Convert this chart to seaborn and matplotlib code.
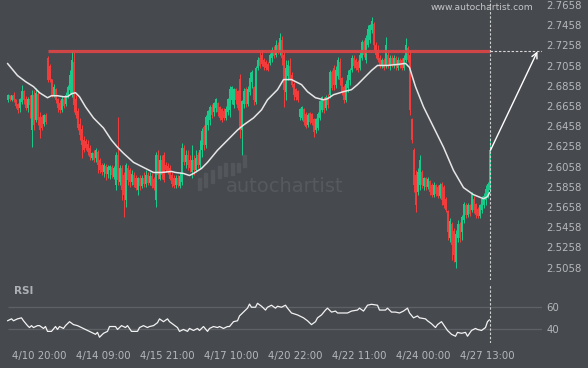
import numpy as np
import matplotlib
matplotlib.use("Agg")
import matplotlib.pyplot as plt
import seaborn as sns
from matplotlib.patches import Rectangle

# ---------------- data ----------------
open_ = [2.672, 2.676, 2.672, 2.676, 2.672, 2.667, 2.664, 2.670, 2.680, 2.672,
         2.664, 2.672, 2.642, 2.676, 2.652, 2.677, 2.654, 2.654, 2.648, 2.656,
         2.713, 2.705, 2.692, 2.677, 2.682, 2.672, 2.668, 2.662, 2.672, 2.668,
         2.676, 2.682, 2.677, 2.709, 2.672, 2.660, 2.647, 2.642, 2.632, 2.631,
         2.628, 2.624, 2.614, 2.619, 2.614, 2.620, 2.612, 2.607, 2.600, 2.606,
         2.598, 2.602, 2.605, 2.596, 2.588, 2.617, 2.591, 2.604, 2.597, 2.573,
         2.604, 2.602, 2.591, 2.597, 2.594, 2.583, 2.594, 2.587, 2.594, 2.589,
         2.597, 2.590, 2.596, 2.593, 2.573, 2.617, 2.594, 2.612, 2.617, 2.607,
         2.606, 2.604, 2.597, 2.594, 2.588, 2.594, 2.587, 2.591, 2.624, 2.610,
         2.617, 2.612, 2.600, 2.612, 2.602, 2.617, 2.607, 2.622, 2.644, 2.627,
         2.647, 2.652, 2.664, 2.660, 2.664, 2.668, 2.664, 2.662, 2.660, 2.654,
         2.660, 2.662, 2.672, 2.667, 2.682, 2.680, 2.692, 2.642, 2.668, 2.682,
         2.668, 2.680, 2.690, 2.684, 2.670, 2.703, 2.713, 2.716, 2.711, 2.709,
         2.707, 2.708, 2.713, 2.721, 2.716, 2.726, 2.719, 2.731, 2.716, 2.680,
         2.696, 2.705, 2.696, 2.687, 2.682, 2.680, 2.655, 2.654, 2.662, 2.657,
         2.647, 2.658, 2.657, 2.652, 2.642, 2.644, 2.654, 2.662, 2.672, 2.664,
         2.674, 2.677, 2.699, 2.703, 2.687, 2.696, 2.709, 2.693, 2.684, 2.672,
         2.684, 2.692, 2.701, 2.713, 2.711, 2.709, 2.703, 2.713, 2.729, 2.711,
         2.726, 2.731, 2.741, 2.746, 2.726, 2.721, 2.713, 2.705, 2.711, 2.705,
         2.716, 2.705, 2.713, 2.706, 2.713, 2.703, 2.711, 2.711, 2.703, 2.711,
         2.723, 2.716, 2.652, 2.622, 2.597, 2.581, 2.588, 2.600, 2.587, 2.594,
         2.586, 2.591, 2.587, 2.578, 2.587, 2.585, 2.577, 2.588, 2.585, 2.573,
         2.561, 2.535, 2.548, 2.541, 2.511, 2.535, 2.548, 2.541, 2.553, 2.567,
         2.558, 2.567, 2.563, 2.573, 2.568, 2.563, 2.557, 2.563, 2.568, 2.573,
         2.577, 2.583]
high = [2.678, 2.677, 2.677, 2.680, 2.673, 2.669, 2.674, 2.687, 2.682, 2.676,
        2.675, 2.677, 2.682, 2.682, 2.684, 2.680, 2.660, 2.657, 2.658, 2.659,
        2.715, 2.707, 2.693, 2.688, 2.684, 2.674, 2.672, 2.676, 2.675, 2.680,
        2.687, 2.701, 2.720, 2.719, 2.677, 2.664, 2.654, 2.647, 2.636, 2.633,
        2.632, 2.627, 2.620, 2.622, 2.624, 2.622, 2.614, 2.609, 2.609, 2.608,
        2.607, 2.607, 2.607, 2.606, 2.620, 2.655, 2.607, 2.607, 2.600, 2.609,
        2.607, 2.604, 2.602, 2.600, 2.597, 2.596, 2.597, 2.597, 2.600, 2.602,
        2.600, 2.600, 2.599, 2.596, 2.620, 2.622, 2.617, 2.617, 2.620, 2.610,
        2.609, 2.607, 2.600, 2.597, 2.597, 2.597, 2.600, 2.629, 2.627, 2.622,
        2.622, 2.617, 2.627, 2.617, 2.622, 2.620, 2.632, 2.644, 2.647, 2.657,
        2.662, 2.667, 2.668, 2.670, 2.674, 2.670, 2.666, 2.664, 2.664, 2.666,
        2.674, 2.686, 2.686, 2.684, 2.684, 2.682, 2.698, 2.672, 2.684, 2.685,
        2.686, 2.699, 2.701, 2.686, 2.705, 2.714, 2.721, 2.721, 2.713, 2.711,
        2.709, 2.718, 2.724, 2.725, 2.731, 2.729, 2.738, 2.735, 2.719, 2.711,
        2.711, 2.713, 2.699, 2.690, 2.684, 2.682, 2.664, 2.666, 2.664, 2.660,
        2.659, 2.660, 2.659, 2.654, 2.654, 2.660, 2.672, 2.676, 2.675, 2.677,
        2.678, 2.701, 2.701, 2.706, 2.705, 2.714, 2.713, 2.695, 2.687, 2.692,
        2.701, 2.703, 2.716, 2.716, 2.713, 2.711, 2.719, 2.731, 2.731, 2.736,
        2.746, 2.747, 2.754, 2.749, 2.729, 2.726, 2.716, 2.713, 2.713, 2.734,
        2.719, 2.716, 2.716, 2.716, 2.715, 2.714, 2.713, 2.713, 2.716, 2.733,
        2.725, 2.721, 2.654, 2.624, 2.602, 2.604, 2.617, 2.602, 2.596, 2.596,
        2.596, 2.593, 2.590, 2.591, 2.589, 2.588, 2.590, 2.591, 2.588, 2.576,
        2.563, 2.555, 2.551, 2.545, 2.543, 2.553, 2.551, 2.558, 2.571, 2.570,
        2.570, 2.569, 2.581, 2.577, 2.570, 2.566, 2.569, 2.577, 2.580, 2.588,
        2.591, 2.634]
low = [2.670, 2.671, 2.671, 2.670, 2.664, 2.659, 2.660, 2.668, 2.668, 2.662,
       2.660, 2.654, 2.625, 2.642, 2.650, 2.647, 2.634, 2.642, 2.646, 2.648,
       2.690, 2.690, 2.675, 2.675, 2.669, 2.660, 2.659, 2.660, 2.664, 2.666,
       2.674, 2.679, 2.675, 2.660, 2.654, 2.642, 2.632, 2.614, 2.620, 2.622,
       2.617, 2.612, 2.612, 2.610, 2.610, 2.599, 2.599, 2.597, 2.596, 2.593,
       2.595, 2.594, 2.595, 2.594, 2.583, 2.588, 2.588, 2.573, 2.556, 2.566,
       2.588, 2.586, 2.588, 2.586, 2.583, 2.578, 2.583, 2.585, 2.586, 2.586,
       2.588, 2.588, 2.585, 2.583, 2.566, 2.594, 2.593, 2.594, 2.591, 2.600,
       2.598, 2.593, 2.586, 2.585, 2.585, 2.586, 2.585, 2.588, 2.607, 2.604,
       2.602, 2.600, 2.595, 2.597, 2.600, 2.604, 2.604, 2.615, 2.622, 2.624,
       2.642, 2.647, 2.654, 2.656, 2.660, 2.656, 2.652, 2.650, 2.652, 2.652,
       2.657, 2.655, 2.668, 2.664, 2.668, 2.662, 2.634, 2.617, 2.664, 2.665,
       2.666, 2.677, 2.684, 2.667, 2.668, 2.701, 2.703, 2.705, 2.701, 2.701,
       2.700, 2.706, 2.709, 2.713, 2.714, 2.717, 2.716, 2.706, 2.665, 2.672,
       2.692, 2.692, 2.685, 2.672, 2.672, 2.670, 2.652, 2.652, 2.647, 2.644,
       2.645, 2.648, 2.647, 2.635, 2.639, 2.642, 2.652, 2.660, 2.659, 2.662,
       2.664, 2.674, 2.682, 2.682, 2.684, 2.693, 2.687, 2.677, 2.669, 2.670,
       2.680, 2.687, 2.699, 2.703, 2.701, 2.699, 2.701, 2.711, 2.714, 2.708,
       2.724, 2.728, 2.738, 2.721, 2.713, 2.709, 2.703, 2.703, 2.701, 2.703,
       2.703, 2.701, 2.704, 2.703, 2.701, 2.701, 2.703, 2.701, 2.701, 2.709,
       2.709, 2.657, 2.629, 2.581, 2.561, 2.578, 2.583, 2.585, 2.583, 2.583,
       2.584, 2.578, 2.576, 2.576, 2.577, 2.575, 2.575, 2.568, 2.565, 2.561,
       2.533, 2.531, 2.513, 2.511, 2.505, 2.531, 2.531, 2.533, 2.550, 2.555,
       2.556, 2.557, 2.561, 2.560, 2.555, 2.555, 2.555, 2.560, 2.565, 2.568,
       2.575, 2.581]
close_ = [2.676, 2.673, 2.676, 2.672, 2.666, 2.662, 2.672, 2.680, 2.672, 2.664,
          2.672, 2.667, 2.676, 2.647, 2.678, 2.652, 2.642, 2.644, 2.656, 2.650,
          2.692, 2.692, 2.677, 2.684, 2.672, 2.664, 2.662, 2.672, 2.666, 2.676,
          2.684, 2.696, 2.711, 2.667, 2.657, 2.644, 2.637, 2.627, 2.622, 2.624,
          2.620, 2.615, 2.619, 2.612, 2.622, 2.607, 2.602, 2.600, 2.607, 2.598,
          2.605, 2.606, 2.597, 2.604, 2.617, 2.593, 2.604, 2.583, 2.578, 2.607,
          2.593, 2.591, 2.598, 2.588, 2.585, 2.594, 2.587, 2.594, 2.589, 2.597,
          2.590, 2.596, 2.587, 2.585, 2.617, 2.597, 2.612, 2.597, 2.593, 2.602,
          2.600, 2.594, 2.589, 2.587, 2.594, 2.588, 2.596, 2.624, 2.610, 2.617,
          2.607, 2.604, 2.612, 2.602, 2.614, 2.607, 2.622, 2.640, 2.627, 2.654,
          2.660, 2.664, 2.657, 2.668, 2.672, 2.660, 2.654, 2.652, 2.654, 2.662,
          2.672, 2.682, 2.684, 2.682, 2.672, 2.664, 2.642, 2.670, 2.680, 2.668,
          2.682, 2.693, 2.699, 2.672, 2.703, 2.711, 2.705, 2.707, 2.704, 2.703,
          2.701, 2.716, 2.721, 2.715, 2.726, 2.719, 2.733, 2.713, 2.682, 2.703,
          2.706, 2.693, 2.687, 2.677, 2.675, 2.672, 2.662, 2.664, 2.650, 2.645,
          2.656, 2.650, 2.649, 2.640, 2.652, 2.657, 2.670, 2.674, 2.662, 2.674,
          2.667, 2.699, 2.684, 2.687, 2.701, 2.711, 2.692, 2.680, 2.672, 2.687,
          2.696, 2.701, 2.713, 2.705, 2.703, 2.701, 2.716, 2.729, 2.716, 2.733,
          2.741, 2.745, 2.749, 2.726, 2.716, 2.711, 2.705, 2.711, 2.703, 2.726,
          2.705, 2.713, 2.706, 2.713, 2.705, 2.711, 2.705, 2.703, 2.713, 2.726,
          2.711, 2.662, 2.632, 2.588, 2.568, 2.600, 2.612, 2.588, 2.594, 2.586,
          2.593, 2.581, 2.578, 2.587, 2.579, 2.577, 2.587, 2.573, 2.568, 2.563,
          2.541, 2.551, 2.528, 2.518, 2.538, 2.548, 2.535, 2.555, 2.568, 2.558,
          2.567, 2.559, 2.578, 2.563, 2.558, 2.557, 2.567, 2.573, 2.576, 2.583,
          2.588, 2.622]

ma_bar = [0, 5, 9, 13, 16, 20, 22, 25, 28, 30, 32, 34, 36, 39, 43, 48, 52, 55, 58,
          63, 68, 73, 77, 82, 84, 88, 91, 93, 97, 100, 105, 110, 115, 118, 123,
          127, 130, 135, 138, 142, 144, 147, 150, 154, 158, 160, 163, 168, 172,
          175, 178, 182, 185, 190, 195, 199, 201, 204, 208, 213, 218, 223, 228,
          233, 238, 240, 241]
ma_val = [2.708, 2.696, 2.690, 2.685, 2.679, 2.674, 2.676, 2.676, 2.675, 2.675,
          2.678, 2.679, 2.675, 2.665, 2.654, 2.644, 2.632, 2.625, 2.619, 2.610,
          2.605, 2.600, 2.600, 2.601, 2.600, 2.599, 2.597, 2.599, 2.604, 2.610,
          2.622, 2.632, 2.642, 2.647, 2.654, 2.662, 2.672, 2.682, 2.692, 2.692,
          2.690, 2.687, 2.680, 2.674, 2.672, 2.673, 2.677, 2.680, 2.682, 2.687,
          2.693, 2.701, 2.706, 2.706, 2.707, 2.708, 2.704, 2.685, 2.665, 2.645,
          2.625, 2.602, 2.585, 2.578, 2.574, 2.576, 2.580]

rsi_bar = [0, 2, 3, 5, 7, 8, 10, 11, 12, 13, 15, 16, 18, 19, 20, 22, 24, 25, 26,
           28, 29, 31, 33, 35, 37, 39, 40, 42, 44, 45, 46, 48, 50, 51, 54, 55, 57,
           59, 60, 62, 65, 66, 68, 70, 71, 73, 75, 76, 78, 80, 81, 83, 85, 86, 88,
           90, 91, 93, 95, 96, 98, 100, 101, 103, 105, 106, 108, 110, 111, 113,
           115, 116, 118, 120, 121, 122, 124, 125, 127, 129, 130, 132, 134, 135,
           137, 139, 140, 142, 145, 148, 150, 152, 154, 155, 157, 159, 160, 162,
           164, 165, 167, 170, 172, 175, 176, 178, 180, 182, 185, 186, 189, 190,
           192, 194, 196, 198, 200, 201, 203, 205, 206, 209, 210, 212, 214, 215,
           217, 219, 220, 222, 224, 225, 227, 229, 230, 232, 234, 235, 237, 239,
           240, 241]
rsi_val = [47.7, 49.4, 47.7, 49.4, 50.3, 47.7, 43.4, 41.7, 43.4, 41.7, 43.4, 43.4,
           40.9, 42.6, 38.3, 38.3, 42.6, 40.0, 42.6, 40.9, 43.4, 46.9, 44.3, 43.4,
           41.7, 40.0, 39.1, 37.4, 35.7, 37.4, 33.1, 36.6, 38.3, 42.6, 42.6, 40.0,
           43.4, 41.7, 43.4, 38.3, 38.3, 41.7, 43.4, 41.7, 42.6, 43.4, 46.0, 49.4,
           46.9, 49.4, 46.9, 44.3, 41.7, 38.3, 40.0, 38.3, 40.9, 39.1, 40.9, 39.1,
           42.6, 38.3, 40.9, 42.6, 41.7, 42.6, 40.9, 42.6, 42.6, 46.9, 47.7, 52.0,
           55.4, 58.9, 62.5, 59.7, 59.7, 63.2, 60.6, 57.2, 59.7, 61.5, 58.9, 60.6,
           59.7, 61.5, 58.9, 54.6, 52.9, 50.3, 47.7, 44.3, 46.9, 50.3, 52.9, 57.2,
           58.9, 55.4, 56.3, 54.6, 54.6, 54.6, 56.3, 57.2, 58.9, 56.3, 61.5, 62.3,
           61.5, 57.2, 57.2, 58.9, 55.4, 55.4, 54.6, 56.3, 58.9, 54.6, 50.3, 52.0,
           50.3, 49.4, 47.7, 45.1, 41.7, 44.3, 46.9, 41.7, 39.1, 35.7, 34.0, 37.4,
           36.6, 37.4, 34.0, 39.1, 40.9, 40.0, 39.1, 41.7, 46.9, 48.6]

level = 2.720            # resistance level (red line)
level_start_bar = 20
price_ticks = [2.5058, 2.5258, 2.5458, 2.5658, 2.5858, 2.6058, 2.6258,
               2.6458, 2.6658, 2.6858, 2.7058, 2.7258, 2.7458, 2.7658]
rsi_ticks = [40, 60]
x_tick_bars = [16, 48, 80, 112, 144, 176, 208, 240]
x_tick_labels = ["4/10 20:00", "4/14 09:00", "4/15 21:00", "4/17 10:00",
                 "4/20 22:00", "4/22 11:00", "4/24 00:00", "4/27 13:00"]
forecast_bar = 265       # where the projection arrow ends

# ---------------- style ----------------
sns.set_style("dark")
plt.rcParams["font.family"] = ["DejaVu Sans"]
BG = "#46494e"
GREEN = "#19c98a"
RED = "#f23c3c"
TXT = "#b6b8bb"

W, H = 588, 368
fig = plt.figure(figsize=(W / 100, H / 100), dpi=100, facecolor=BG)


def px_axes(x0, y0, x1, y1):
    a = fig.add_axes([x0 / W, 1 - y1 / H, (x1 - x0) / W, (y1 - y0) / H])
    a.set_facecolor(BG)
    for s in a.spines.values():
        s.set_visible(False)
    return a


ax = px_axes(0, 0, 542, 280)
axr = px_axes(0, 284, 542, 343)
XLIM = (-3.75, 267.25)   # 2 px per bar, bar centres on pixel centres

n = len(close_)
idx = np.arange(n)
o = np.array(open_); c = np.array(close_)
hi = np.array(high); lo = np.array(low)
cols = np.where(c >= o, GREEN, RED)

# watermark logo (decoration)
for (bx, by0, by1) in [(198, 178, 190), (204, 173, 187), (211, 170, 183), (218, 166, 178),
                       (224, 163, 176), (231, 163, 175), (237, 163, 172), (243, 155, 167)]:
    fig.patches.append(Rectangle((bx / W, 1 - by1 / H), 3 / W, (by1 - by0) / H,
                                 transform=fig.transFigure, color="#53565b", zorder=0.5))
fig.text(226 / W, 1 - 186 / H, "autochartist", fontsize=14, color="#56595e",
         va="center", ha="left", zorder=0.5)

# candles
ax.vlines(idx, lo, hi, colors=cols, linewidth=0.72, zorder=2)
ax.bar(idx, np.abs(c - o) + 0.0006, bottom=np.minimum(o, c), width=0.5,
       color=cols, linewidth=0, zorder=2)

# moving average
sns.lineplot(x=ma_bar, y=ma_val, ax=ax, color="#e6e6e6", linewidth=1.1, zorder=3)

last = n - 1
# resistance line
ax.hlines(level, level_start_bar, last, color="#e04646", linewidth=2.3, alpha=0.9, zorder=4)
ax.hlines(level, last, 268, color="#d8d8d8", linewidth=0.8, linestyles=(0, (2.2, 1.6)), zorder=4)
ax.axvline(last, color="#d0d0d0", linewidth=0.8, linestyle=(0, (2.2, 1.6)), zorder=4)
ax.annotate("", xy=(forecast_bar, level), xytext=(last + 0.5, close_[-1]),
            arrowprops=dict(arrowstyle="->", color="white", lw=1.0,
                            mutation_scale=10, shrinkA=0, shrinkB=0), zorder=5)

ax.set_xlim(*XLIM)
ax.set_ylim(2.4935, 2.7708)
ax.set_xticks([])
ax.yaxis.tick_right()
ax.set_yticks(price_ticks)
ax.set_yticklabels([f"{t:.4f}" for t in price_ticks])
ax.tick_params(axis="y", length=0, pad=3, labelsize=7.3, labelcolor=TXT)
ax.set_xlabel(""); ax.set_ylabel("")
ax.grid(False)

fig.text(482 / W, 1 - 8 / H, "www.autochartist.com", fontsize=6.6, color="#c4c6c9",
         ha="center", va="center")

# RSI panel
axr.hlines(rsi_ticks, 0, 267.25, color="#5e6166", linewidth=0.9, zorder=1)
sns.lineplot(x=rsi_bar, y=rsi_val, ax=axr, color="#f2f2f2", linewidth=0.9, zorder=3)
axr.axvline(last, color="#d0d0d0", linewidth=0.8, linestyle=(0, (2.2, 1.6)), zorder=4)
axr.set_xlim(*XLIM)
axr.set_ylim(28.0, 80.3)
axr.yaxis.tick_right()
axr.set_yticks(rsi_ticks)
axr.set_yticklabels([str(t) for t in rsi_ticks])
axr.set_xticks(x_tick_bars)
axr.set_xticklabels(x_tick_labels)
axr.tick_params(axis="y", length=0, pad=3, labelsize=7.3, labelcolor=TXT)
axr.tick_params(axis="x", length=0, pad=6, labelsize=7.3, labelcolor=TXT)
axr.set_xlabel(""); axr.set_ylabel("")
axr.grid(False)
fig.text(14 / W, 1 - 291 / H, "RSI", fontsize=7.5, fontweight="bold", color="#aeb1b5",
         ha="left", va="center")

fig.savefig("out.png", dpi=100, facecolor=BG)
